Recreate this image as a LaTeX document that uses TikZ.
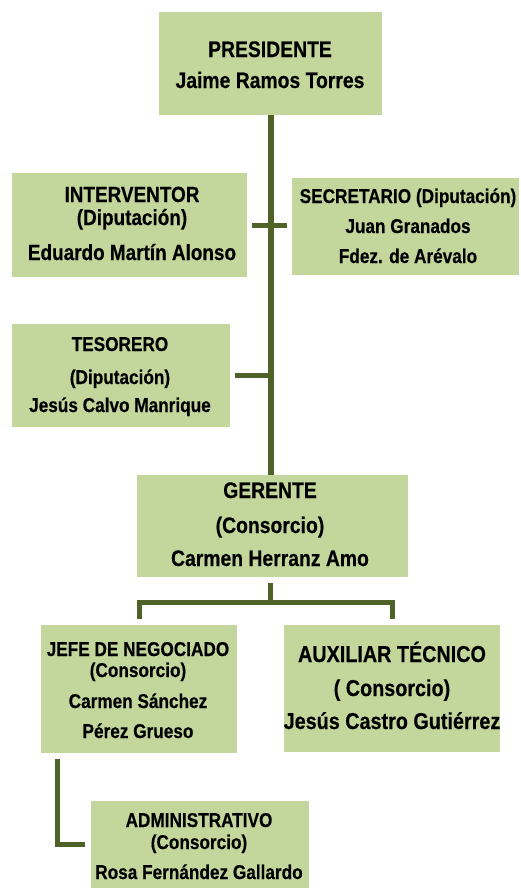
\documentclass[tikz,border=0pt]{standalone}
\usepackage{fontspec}
\setmainfont{Liberation Sans}[FakeStretch=0.86,FakeBold=0.4]
\definecolor{boxfill}{HTML}{C3D69B}
\definecolor{linecol}{HTML}{4F6228}
\newcommand{\fz}[1]{\fontsize{#1}{#1}\selectfont\bfseries}
\begin{document}
\begin{tikzpicture}[x=1pt,y=-1pt,
  box/.style={rectangle,draw=none,fill=boxfill,inner sep=0pt},
  txt/.style={anchor=base,inner sep=0pt,text=black},
  conn/.style={draw=linecol,line width=5pt},
  trunkline/.style={draw=linecol,line width=6pt}]
\useasboundingbox (0,0) rectangle (521,889);
% boxes
\node[box,minimum width=223pt,minimum height=103pt] (pres) at (270.5,63.5) {};
\node[box,minimum width=235pt,minimum height=104pt] (iv) at (129.5,225) {};
\node[box,minimum width=227pt,minimum height=97pt] (sc) at (405.5,226.5) {};
\node[box,minimum width=218pt,minimum height=103pt] (ts) at (121,375.5) {};
\node[box,minimum width=271pt,minimum height=102pt] (ger) at (272.5,526) {};
\node[box,minimum width=196pt,minimum height=128pt] (jf) at (139,689) {};
\node[box,minimum width=216pt,minimum height=127pt] (ax) at (392,688.5) {};
\node[box,minimum width=218pt,minimum height=87pt] (ad) at (200,844.5) {};
% connectors
\coordinate (hb) at (270.5,602);
\draw[trunkline] (pres.south) -- (pres.south |- ger.north);
\draw[conn] ([xshift=5pt]iv.east) -- ([xshift=-5pt]iv.east -| sc.west);
\draw[conn] ([xshift=5pt]ts.east) -- (ts.east -| pres.south);
\draw[conn] (hb |- ger.south) ++(0,6) -- (hb);
\draw[conn] ([yshift=6pt]jf.north) |- (hb) -| ([yshift=6pt]ax.north);
\draw[conn] ([xshift=17pt,yshift=-6pt]jf.south west) |- ([xshift=-6pt]ad.west);
% texts
\node[txt,font=\fz{22.5}] (p1) at (270,57) {PRESIDENTE};
\node[txt,font=\fz{22.5}] (p2) at (270,88) {Jaime Ramos Torres};
\node[txt,font=\fz{22}] (i1) at (132,202) {INTERVENTOR};
\node[txt,font=\fz{22}] (i2) at (132,225) {(Diputación)};
\node[txt,font=\fz{22}] (i3) at (132,260) {Eduardo Martín Alonso};
\node[txt,font=\fz{20}] (s1) at (408,203) {SECRETARIO (Diputación)};
\node[txt,font=\fz{20}] (s2) at (408,233) {Juan Granados};
\node[txt,font=\fz{20}] (s3) at (408,263) {Fdez. de Arévalo};
\node[txt,font=\fz{20}] (t1) at (120,351) {TESORERO};
\node[txt,font=\fz{20}] (t2) at (120,384) {(Diputación)};
\node[txt,font=\fz{20}] (t3) at (120,412) {Jesús Calvo Manrique};
\node[txt,font=\fz{22.5}] (g1) at (270,498) {GERENTE};
\node[txt,font=\fz{22.5}] (g2) at (270,533) {(Consorcio)};
\node[txt,font=\fz{22.5}] (g3) at (270,566) {Carmen Herranz Amo};
\node[txt,font=\fz{20}] (j1) at (138,656) {JEFE DE NEGOCIADO};
\node[txt,font=\fz{20}] (j2) at (138,677) {(Consorcio)};
\node[txt,font=\fz{20}] (j3) at (138,708) {Carmen Sánchez};
\node[txt,font=\fz{20}] (j4) at (138,738) {Pérez Grueso};
\node[txt,font=\fz{23}] (a1) at (392,662) {AUXILIAR TÉCNICO};
\node[txt,font=\fz{23}] (a2) at (392,696) {( Consorcio)};
\node[txt,font=\fz{23}] (a3) at (392,729) {Jesús Castro Gutiérrez};
\node[txt,font=\fz{20}] (d1) at (199,827) {ADMINISTRATIVO};
\node[txt,font=\fz{20}] (d2) at (199,849) {(Consorcio)};
\node[txt,font=\fz{20}] (d3) at (199,879) {Rosa Fernández Gallardo};
\end{tikzpicture}
\end{document}
